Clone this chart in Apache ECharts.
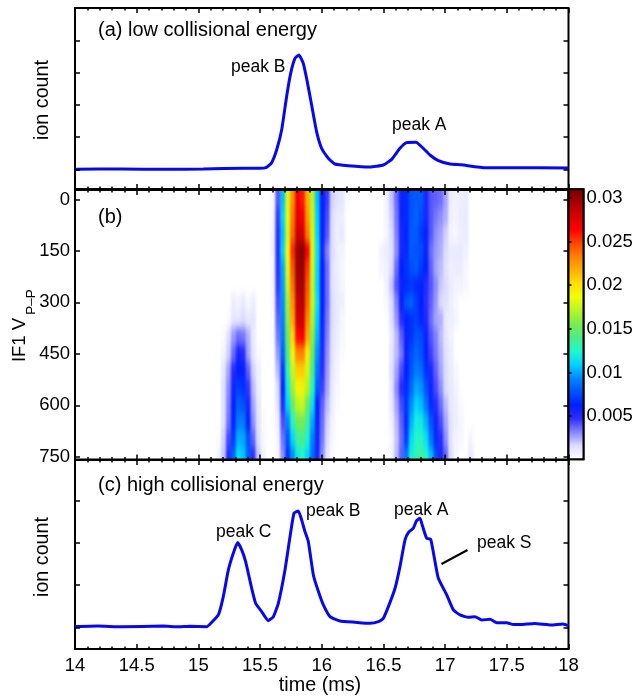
<!DOCTYPE html>
<html>
<head>
<meta charset="utf-8">
<script src="https://cdn.jsdelivr.net/npm/echarts@6/dist/echarts.min.js"></script>
<style>
  html, body { margin: 0; padding: 0; background: #fff; }
  #heatClip { position: absolute; left: 75px; top: 190px; width: 494px; height: 270px; overflow: hidden; }
  #heat { position: absolute; left: -2.5px; top: -16.2px; width: 498.5px; height: 308.3px; filter: url(#soft); }
  #main { position: absolute; left: 0; top: 0; width: 640px; height: 696px; }
</style>
</head>
<body>
<svg width="0" height="0" style="position:absolute">
  <filter id="soft" x="0" y="0" width="100%" height="100%" color-interpolation-filters="sRGB">
    <feGaussianBlur stdDeviation="1.3 5"/>
  </filter>
</svg>
<div id="heatClip"><div id="heat"></div></div>
<div id="main"></div>
<script>
// panel (a): time (ms), ion count (in tick steps)
const lowTime = [14, 14.38, 14.71, 15.04, 15.37, 15.499, 15.553, 15.594, 15.634, 15.675, 15.715, 15.748, 15.783, 15.815, 15.85, 15.877, 15.918, 15.958, 15.999, 16.053, 16.107, 16.215, 16.391, 16.499, 16.567, 16.634, 16.688, 16.764, 16.823, 16.877, 16.945, 17.04, 17.13, 17.33, 17.53, 18];
const lowCount = [0, 0.01, 0, 0.01, 0.03, 0.03, 0.061, 0.207, 0.6, 1.222, 2.259, 2.985, 3.452, 3.555, 3.296, 2.83, 2, 1.171, 0.652, 0.341, 0.165, 0.113, 0.072, 0.134, 0.31, 0.652, 0.829, 0.839, 0.652, 0.445, 0.269, 0.165, 0.14, 0.05, 0.05, 0.04];

// panel (c)
const highTime = [14, 14.18, 14.38, 14.71, 14.84, 14.932, 15.067, 15.108, 15.162, 15.202, 15.243, 15.283, 15.318, 15.351, 15.383, 15.432, 15.464, 15.513, 15.567, 15.608, 15.648, 15.702, 15.743, 15.775, 15.81, 15.837, 15.864, 15.891, 15.932, 15.973, 16.013, 16.067, 16.148, 16.27, 16.391, 16.459, 16.499, 16.54, 16.594, 16.634, 16.675, 16.702, 16.742, 16.769, 16.796, 16.818, 16.85, 16.883, 16.918, 16.945, 17.013, 17.067, 17.121, 17.188, 17.242, 17.296, 17.364, 17.418, 17.499, 17.553, 17.607, 17.725, 17.86, 17.955, 18];
const highCount = [0.016, 0.03, 0.01, 0.03, 0.01, 0.023, 0.015, 0.118, 0.293, 0.73, 1.364, 1.761, 2.015, 1.84, 1.563, 0.928, 0.571, 0.372, 0.158, 0.253, 0.571, 1.364, 2.158, 2.714, 2.769, 2.555, 2.277, 2.039, 1.245, 0.849, 0.531, 0.253, 0.15, 0.12, 0.094, 0.134, 0.213, 0.491, 0.928, 1.444, 2.079, 2.253, 2.356, 2.539, 2.594, 2.396, 2.118, 2.094, 1.563, 1.166, 0.769, 0.412, 0.293, 0.237, 0.253, 0.174, 0.19, 0.11, 0.11, 0.063, 0.063, 0.09, 0.055, 0.08, 0.04];

// panel (b): rows of IF1 voltage, cells in units of 1e-4
const voltRows = [0, 50, 100, 150, 200, 250, 300, 350, 400, 450, 500, 550, 600, 650, 700, 750];

// peak C columns start at 15.16 ms, step 0.04 (rows 0-250 are empty)
const peakCStart = 15.16;
const peakCRows = [
  [0,0,0,0,0,0,0,0,0,0],
  [0,0,0,0,0,0,0,0,0,0],
  [0,0,0,0,0,0,0,0,0,0],
  [0,0,0,0,0,0,0,0,0,0],
  [0,0,0,0,0,0,0,0,0,0],
  [0,0,0,0,0,0,0,0,0,0],
  [0,0,0,9,6,10,4,8,0,0],
  [0,0,2,12,12,16,10,12,0,0],
  [0,2,14,28,36,34,24,10,0,0],
  [0,6,18,36,56,50,26,12,3,0],
  [0,12,26,50,62,60,38,18,7,0],
  [0,14,30,56,72,68,46,22,8,0],
  [0,14,32,60,82,78,56,26,12,0],
  [0,14,34,64,90,90,64,30,14,3],
  [2,18,42,72,102,100,78,38,16,4],
  [5,20,50,84,114,106,82,48,20,6]
];

// peak B columns start at 15.60 ms
const peakBStart = 15.6;
const peakBRows = [
  [3,40,105,180,228,268,258,218,172,105,62,45,18,14,12,2],
  [4,45,110,182,235,275,268,225,175,108,62,42,16,10,8,0],
  [6,48,105,178,240,285,280,235,178,110,62,40,15,8,10,0],
  [6,50,110,188,255,300,305,265,180,115,55,32,16,8,6,0],
  [5,48,100,180,245,300,298,252,178,112,62,36,14,8,4,0],
  [5,46,98,175,238,295,295,245,175,110,62,36,14,9,5,0],
  [4,42,95,165,228,285,290,240,175,115,62,36,16,10,8,0],
  [2,38,92,160,220,280,282,232,170,108,58,34,16,10,4,0],
  [2,34,88,150,205,262,268,220,160,102,55,32,14,8,4,0],
  [1,28,82,140,190,232,232,195,150,95,52,30,13,6,2,0],
  [0,22,70,130,175,208,208,178,138,88,48,28,12,5,0,0],
  [0,16,60,118,165,190,192,170,128,80,44,26,10,3,0,0],
  [0,14,52,110,148,172,175,150,114,60,38,22,8,2,0,0],
  [0,8,42,92,128,152,155,135,100,58,36,18,6,0,0,0],
  [0,5,35,78,110,135,140,122,92,56,34,16,4,0,0,0],
  [0,4,30,68,95,118,125,110,85,55,30,12,2,0,0,0]
];

// peak A columns start at 16.48 ms
const peakAStart = 16.48;
const peakARows = [
  [0,6,20,36,58,66,78,80,80,54,40,38,36,26,8,7,8,10,0,0],
  [0,6,18,34,58,66,78,83,76,54,40,34,30,24,7,6,9,10,0,0],
  [0,5,16,32,55,64,80,80,70,60,40,30,26,18,6,4,8,9,0,0],
  [6,9,14,30,55,66,80,78,76,58,36,28,24,16,10,10,10,7,0,0],
  [5,7,16,36,62,68,76,80,70,62,38,26,22,14,8,9,9,4,0,0],
  [0,7,20,40,58,66,70,66,64,50,40,30,20,16,10,6,6,4,0,0],
  [0,4,16,32,60,78,82,72,62,48,38,28,16,14,8,4,0,0,0,0],
  [0,0,14,28,48,64,68,72,64,52,36,26,24,10,8,5,0,0,0,0],
  [0,0,10,22,38,58,68,78,76,58,40,32,22,12,7,0,0,0,0,0],
  [0,0,12,22,34,58,76,84,78,60,44,34,24,14,8,0,0,0,0,0],
  [0,0,14,26,42,62,78,90,86,68,54,38,26,16,9,4,0,0,0,0],
  [0,0,12,30,50,66,84,100,96,78,58,42,30,16,11,6,0,0,0,0],
  [0,0,10,26,42,70,94,110,104,88,66,50,36,22,11,8,3,0,0,0],
  [0,0,7,22,38,66,102,120,118,102,78,58,42,26,13,8,4,0,0,0],
  [0,0,4,20,36,72,112,126,128,114,88,66,50,30,13,6,4,0,6,0],
  [0,0,5,22,38,90,120,132,135,125,105,75,55,38,15,4,0,0,10,0]
];

const voltTicks = [0, 150, 300, 450, 600, 750];
const countTicksLow = [0, 1, 2, 3, 4];
const countTicksHigh = [0, 1, 2, 3];
const barTicks = [0.005, 0.01, 0.015, 0.02, 0.025, 0.03];
const heatColors = ['#ffffff', '#ddddff', '#8686ff', '#2e2eff', '#001eff', '#0052ff', '#0087ff', '#00d2ff', '#1ef8d0', '#4cec89', '#78eb50', '#b4f528', '#f0fc05', '#ffe100', '#ffaf00', '#ff8200', '#ff4600', '#ff0000', '#d70000', '#aa0000', '#780000'];

const FONT = '"Liberation Sans", Arial, sans-serif';
const COL_STEP = 0.04;
const HEAT_MIN = 0.00004;
const HEAT_MAX = 0.031;

// --- heatmap layer, sits under the axes ---
const timeCats = [];
for (let i = 0; i <= 100; i++) timeCats.push((14 + i * COL_STEP).toFixed(2));

// first and last row repeated past the frame so the soft edge stays outside it
const voltCats = ['pad0'].concat(voltRows.map(String), ['pad1']);
const heatData = [];
function addPeak(rows, start) {
  const first = Math.round((start - 14) / COL_STEP);
  rows.forEach((row, r) => {
    row.forEach((v, c) => {
      if (!v) return;
      heatData.push([first + c, r + 1, v / 1e4]);
      if (r === 0) heatData.push([first + c, 0, v / 1e4]);
      if (r === rows.length - 1) heatData.push([first + c, r + 2, v / 1e4]);
    });
  });
}
addPeak(peakCRows, peakCStart);
addPeak(peakBRows, peakBStart);
addPeak(peakARows, peakAStart);

const heatChart = echarts.init(document.getElementById('heat'));
heatChart.setOption({
  animation: false,
  backgroundColor: '#fff',
  grid: { left: 0, right: 0, top: 0, bottom: 0 },
  xAxis: { type: 'category', data: timeCats, show: false },
  yAxis: { type: 'category', data: voltCats, inverse: true, show: false },
  visualMap: { show: false, min: HEAT_MIN, max: HEAT_MAX, dimension: 2, inRange: { color: heatColors } },
  series: [{ type: 'heatmap', data: heatData, itemStyle: { borderWidth: 0 } }]
});

// --- axes, curves, text ---
const chart = echarts.init(document.getElementById('main'));

const grids = [
  { left: 75, width: 493.5, top: 8, height: 181 },
  { left: 75, width: 493.5, top: 190, height: 269.5 },
  { left: 75, width: 493.5, top: 460, height: 189 },
  { left: 568.5, width: 15, top: 189.3, height: 270 }
].map(g => Object.assign(g, { show: true, borderColor: '#000', borderWidth: 2, backgroundColor: 'transparent' }));

function timeAxis(grid, position, labels) {
  return {
    type: 'value', gridIndex: grid, position, min: 14, max: 18, interval: 0.5,
    splitLine: { show: false },
    axisLine: { show: false, onZero: false },
    axisTick: { inside: true, length: 5, lineStyle: { color: '#000', width: 1.5 } },
    minorTick: { show: true, splitNumber: 5, length: 2.5, lineStyle: { color: '#000', width: 1.5 } },
    axisLabel: { show: labels, color: '#000', fontFamily: FONT, fontSize: 18.5, margin: 7 }
  };
}

function sideAxis(grid, position, min, max, ticks, labels, inverse) {
  return {
    type: 'value', gridIndex: grid, position, min, max, inverse: !!inverse, z: 10,
    splitLine: { show: false },
    axisLine: { show: false, onZero: false },
    axisTick: { inside: true, length: 5, customValues: ticks, lineStyle: { color: '#000', width: 1.5 } },
    axisLabel: { show: labels, customValues: ticks, color: '#000', fontFamily: FONT, fontSize: 18.5, margin: 5 }
  };
}

const barLeft = sideAxis(3, 'left', HEAT_MIN, HEAT_MAX, barTicks, false);
barLeft.axisTick.length = 3;
const barRight = sideAxis(3, 'right', HEAT_MIN, HEAT_MAX, barTicks, true);
barRight.axisTick.show = false;
barRight.axisLabel.margin = 3;

function panelText(text, x, y, size) {
  return {
    type: 'text', x, y, z: 100,
    style: { text, fontFamily: FONT, fontSize: size, fill: '#000', align: 'left', verticalAlign: 'middle' }
  };
}

function rotatedText(text, x, y, size) {
  return {
    type: 'text', x, y, rotation: Math.PI / 2, z: 100,
    style: { text, fontFamily: FONT, fontSize: size, fill: '#000', align: 'center', verticalAlign: 'middle' }
  };
}

chart.setOption({
  animation: false,
  grid: grids,
  xAxis: [
    timeAxis(0, 'bottom', false), timeAxis(0, 'top', false),
    timeAxis(1, 'bottom', false), timeAxis(1, 'top', false),
    timeAxis(2, 'bottom', true), timeAxis(2, 'top', false),
    { type: 'value', gridIndex: 3, min: 0, max: 1, show: false }
  ],
  yAxis: [
    sideAxis(0, 'left', -0.613, 5.017, countTicksLow, false),
    sideAxis(0, 'right', -0.613, 5.017, countTicksLow, false),
    sideAxis(1, 'left', -27.7, 758, voltTicks, true, true),
    sideAxis(1, 'right', -27.7, 758, voltTicks, false, true),
    sideAxis(2, 'left', -0.517, 3.98, countTicksHigh, false),
    sideAxis(2, 'right', -0.517, 3.98, countTicksHigh, false),
    barLeft, barRight
  ],
  // colour bar only, the heatmap layer has its own copy of the scale
  visualMap: {
    type: 'continuous', seriesIndex: [], min: HEAT_MIN, max: HEAT_MAX, calculable: false, hoverLink: false,
    left: 568.5, top: 189.3, itemWidth: 15, itemHeight: 270, padding: 0, showLabel: false, z: 0,
    inRange: { color: heatColors }
  },
  series: [
    {
      type: 'line', xAxisIndex: 0, yAxisIndex: 0, showSymbol: false, smooth: 0.15,
      data: lowTime.map((t, i) => [t, lowCount[i]]),
      lineStyle: { color: '#0808ee', width: 3 }
    },
    {
      type: 'line', xAxisIndex: 4, yAxisIndex: 4, showSymbol: false, smooth: 0.15,
      data: highTime.map((t, i) => [t, highCount[i]]),
      lineStyle: { color: '#0808ee', width: 3 }
    }
  ],
  graphic: [
    panelText('(a) low collisional energy', 98, 30, 20),
    panelText('(b)', 98, 217, 20),
    panelText('(c) high collisional energy', 98, 485, 20),
    panelText('peak B', 231, 67, 17.5),
    panelText('peak A', 392, 125, 17.5),
    panelText('peak C', 216, 532, 17.5),
    panelText('peak B', 306, 511, 17.5),
    panelText('peak A', 394, 510, 17.5),
    panelText('peak S', 477, 543, 17.5),
    {
      type: 'line', z: 100,
      shape: { x1: 441.5, y1: 564, x2: 467.5, y2: 550 },
      style: { stroke: '#000', lineWidth: 2 }
    },
    {
      type: 'rect', z: 90,
      shape: { x: 568.5, y: 189.3, width: 15, height: 270 },
      style: { fill: 'none', stroke: '#000', lineWidth: 2 }
    },
    rotatedText('ion count', 43, 100, 19.7),
    rotatedText('ion count', 43, 557, 19.7),
    rotatedText('IF1 V', 20, 340, 18.5),
    rotatedText('P\u2013P', 31, 302, 13.5),
    {
      type: 'text', x: 320, y: 686, z: 100,
      style: { text: 'time (ms)', fontFamily: FONT, fontSize: 19.8, fill: '#000', align: 'center', verticalAlign: 'middle' }
    }
  ]
});
</script>
</body>
</html>
